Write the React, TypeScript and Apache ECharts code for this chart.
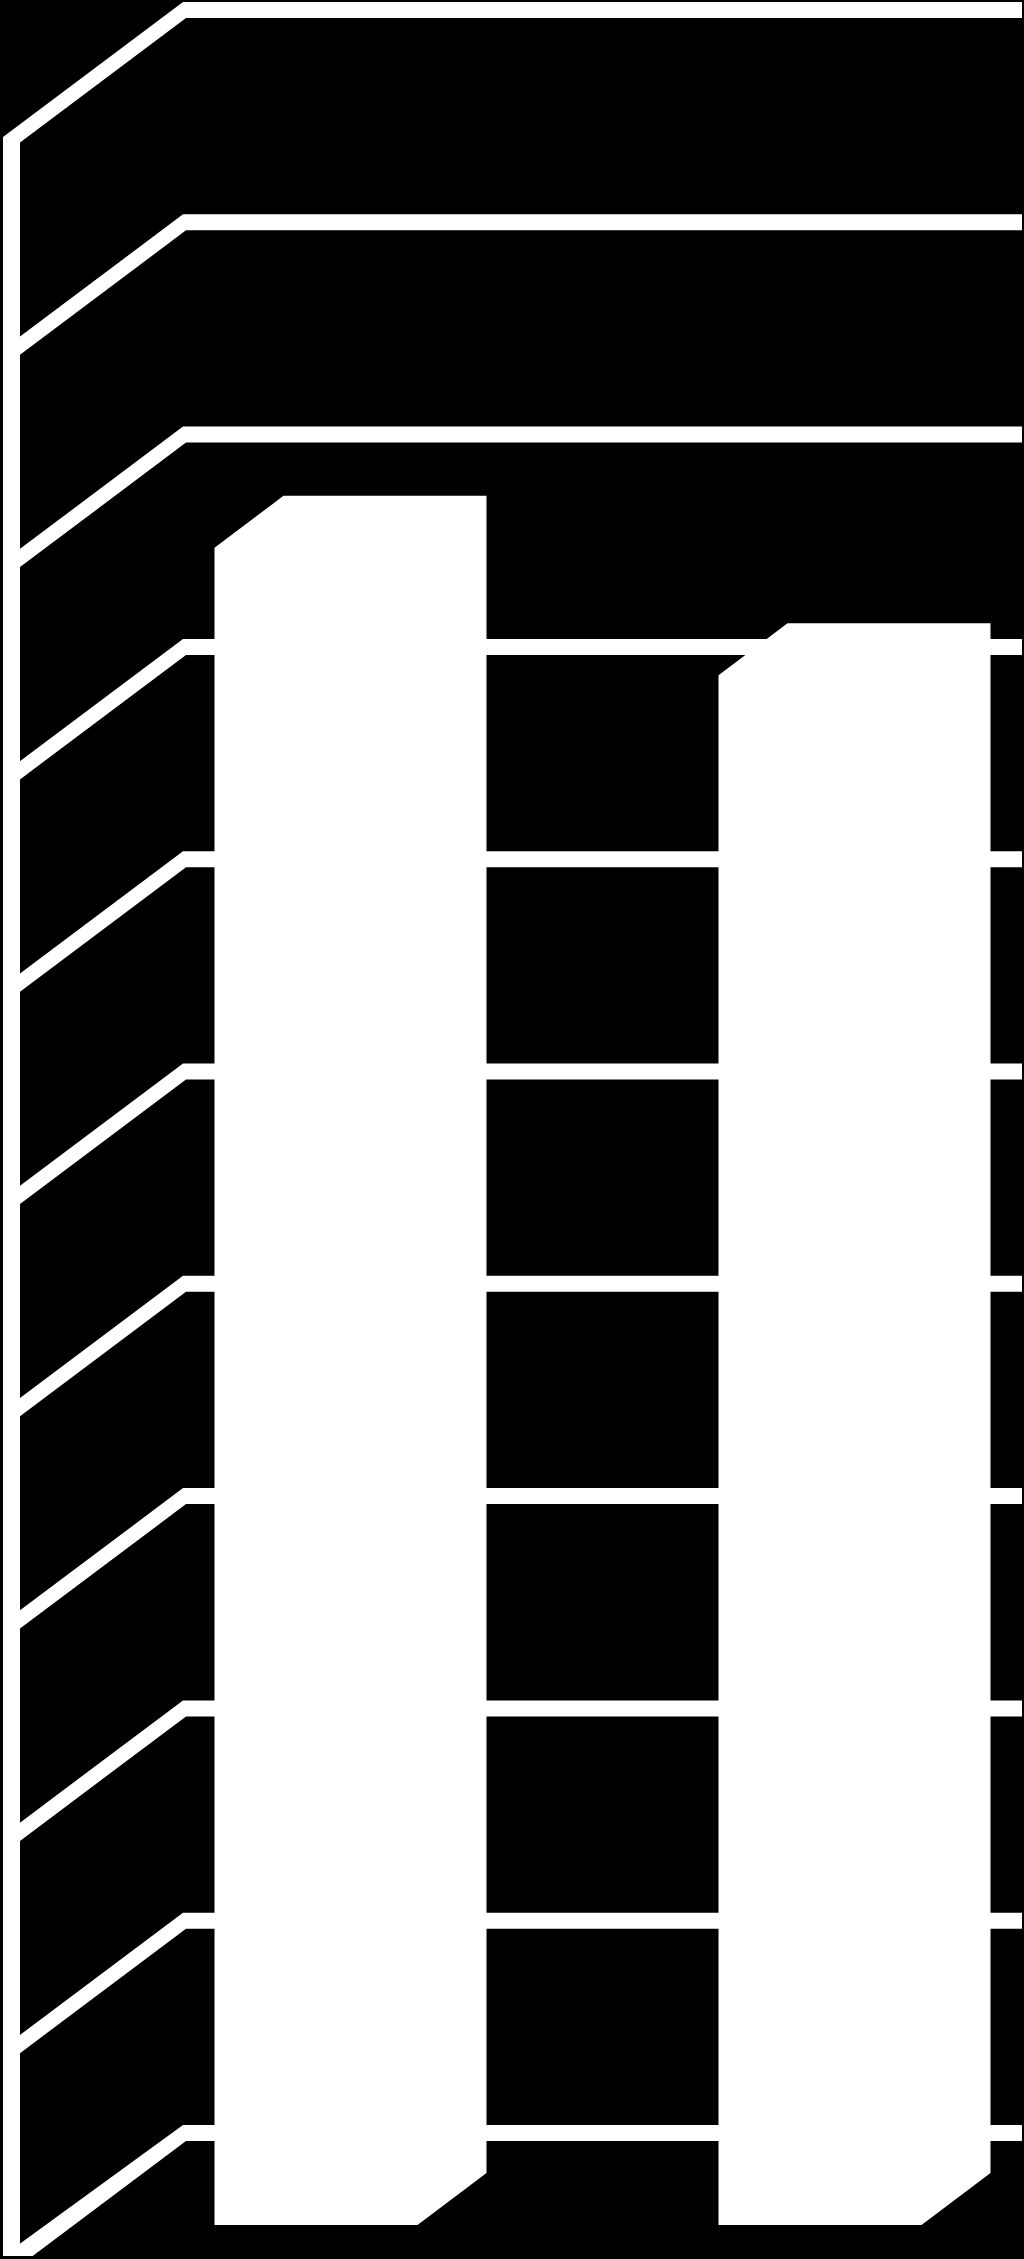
import React, { useEffect, useRef } from "react";
import * as echarts from "echarts";

const categories = ["A", "B"];
const seriesValues = [7.9, 7.3];
const tickValues = [0, 1, 2, 3, 4, 5, 6, 7, 8, 9, 10];

const WIDTH = 1024;
const HEIGHT = 2259;
const WHITE = "#ffffff";
const BLACK = "#000000";
const LINE_HALF = 8;
const WALL_LEFT = 183;
const WALL_RIGHT = 1022;
const STRIP_LEFT = 3;
const STRIP_RIGHT = 20;
const FLOOR_Y = 2256;
const SLOPE = 0.75;
const BAR_FRACTION = 203 / 504;
const BAR_FRONT = { dx: 122, dy: 92 };
const BAR_BACK = { dx: 53, dy: 40 };

function renderWall(_: any, api: any) {
  const y = api.coord([0, api.value(1)])[1];
  const top = y - LINE_HALF;
  const bottom = y + LINE_HALF;
  const innerX = WALL_LEFT + 3;
  const endX = Math.max(STRIP_RIGHT, innerX - (FLOOR_Y - bottom) / SLOPE);
  const endY = Math.min(FLOOR_Y, bottom + (innerX - STRIP_RIGHT) * SLOPE);
  return {
    type: "polygon",
    shape: {
      points: [
        [WALL_RIGHT, top],
        [WALL_LEFT, top],
        [STRIP_LEFT, Math.min(FLOOR_Y, top + (WALL_LEFT - STRIP_LEFT) * SLOPE)],
        [STRIP_LEFT, Math.min(FLOOR_Y, endY)],
        [endX, endY],
        [innerX, bottom],
        [WALL_RIGHT, bottom],
      ],
    },
    style: { fill: WHITE, stroke: "none" },
  };
}

function renderStrip(_: any, api: any) {
  const topY = api.coord([0, tickValues[tickValues.length - 1]])[1];
  return {
    type: "rect",
    shape: {
      x: STRIP_LEFT,
      y: topY + 129,
      width: STRIP_RIGHT - STRIP_LEFT,
      height: FLOOR_Y - (topY + 129),
    },
    style: { fill: WHITE, stroke: "none" },
  };
}

function renderBar(_: any, api: any) {
  const index = api.value(0);
  const [cx, topY] = api.coord([index, api.value(1)]);
  const baseY = api.coord([index, 0])[1];
  const halfWidth = (api.size([1, 0])[0] * BAR_FRACTION) / 2;
  const left = cx - halfWidth;
  const right = cx + halfWidth;
  return {
    type: "polygon",
    shape: {
      points: [
        [left - BAR_FRONT.dx, topY + BAR_FRONT.dy],
        [left - BAR_BACK.dx, topY + BAR_BACK.dy],
        [right - BAR_BACK.dx, topY + BAR_BACK.dy],
        [right - BAR_BACK.dx, baseY + BAR_BACK.dy],
        [right - BAR_FRONT.dx, baseY + BAR_FRONT.dy],
        [left - BAR_FRONT.dx, baseY + BAR_FRONT.dy],
      ],
    },
    style: { fill: WHITE, stroke: "none" },
  };
}

export default function App() {
  const ref = useRef<HTMLDivElement>(null);

  useEffect(() => {
    document.body.style.margin = "0";
    document.body.style.background = BLACK;
    const chart = echarts.init(ref.current!, null, { renderer: "svg" });
    chart.setOption({
      animation: false,
      backgroundColor: BLACK,
      tooltip: { show: false },
      grid: { left: 186, top: 10, width: 1008, height: 2123, outerBoundsMode: "none" },
      xAxis: {
        type: "category",
        data: categories,
        axisLine: { show: false },
        axisTick: { show: false },
        axisLabel: { show: false },
        splitLine: { show: false },
      },
      yAxis: {
        type: "value",
        min: 0,
        max: 10,
        interval: 1,
        axisLine: { show: false },
        axisTick: { show: false },
        axisLabel: { show: false },
        splitLine: { show: false },
      },
      series: [
        {
          type: "custom",
          silent: true,
          clip: false,
          z: 1,
          renderItem: renderWall,
          data: tickValues.map((v) => [0, v]),
        },
        {
          type: "custom",
          silent: true,
          clip: false,
          z: 2,
          renderItem: renderStrip,
          data: [[0, 0]],
        },
        {
          type: "custom",
          silent: true,
          clip: false,
          z: 3,
          renderItem: renderBar,
          data: seriesValues.map((v, i) => [i, v]),
        },
      ],
    });
    return () => chart.dispose();
  }, []);

  return <div ref={ref} style={{ width: WIDTH, height: HEIGHT }} />;
}
